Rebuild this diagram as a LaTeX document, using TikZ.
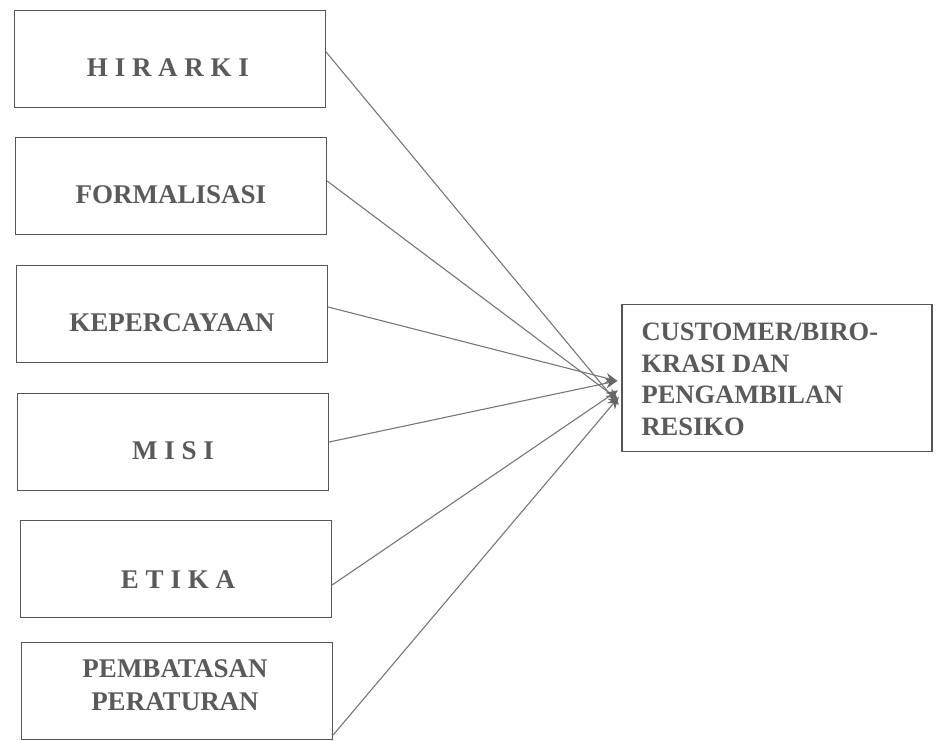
\documentclass[tikz,border=0pt]{standalone}
\usepackage{fontspec}
\setmainfont{Liberation Serif}
\usetikzlibrary{arrows.meta,calc}
\definecolor{txt}{HTML}{5A5A5A}
\definecolor{edge}{HTML}{555555}
\definecolor{conn}{HTML}{777777}
\definecolor{head}{HTML}{666666}
\begin{document}
\begin{tikzpicture}[x=1pt,y=-1pt,
  lbox/.style={draw=edge,line width=1.2pt,minimum width=311pt,minimum height=97pt,inner sep=0pt},
  ltext/.style={font=\fontsize{27}{33}\selectfont\bfseries,text=txt,align=center,inner sep=0pt},
  rbox/.style={draw=edge,line width=1.2pt,minimum width=310pt,minimum height=147pt,inner sep=0pt},
  rtext/.style={font=\fontsize{26.5}{31.5}\selectfont\bfseries,text=txt,align=left,inner sep=0pt,anchor=north west},
  conn/.style={draw=conn,line width=1.1pt,-{Stealth[length=12pt,width=10pt,color=head]},shorten >=4pt}]
\useasboundingbox (0,0) rectangle (940,740);
\fill[white] (0,0) rectangle (940,740);
\node[lbox] (h) at (170,59) {};
\node[lbox] (f) at (171,186) {};
\node[lbox] (k) at (172,314) {};
\node[lbox] (m) at (173,442) {};
\node[lbox] (e) at (176,569) {};
\node[lbox] (p) at (177,691) {};
\node[ltext] (ht) at ($(h.center)+(-2,9)$) {H I R A R K I};
\node[ltext] (ft) at ($(f.center)+(0,9)$) {FORMALISASI};
\node[ltext] (kt) at ($(k.center)+(0,9)$) {KEPERCAYAAN};
\node[ltext] (mt) at ($(m.center)+(0,9)$) {M I S I};
\node[ltext] (et) at ($(e.center)+(2,11)$) {E T I K A};
\node[ltext] (pt) at ($(p.center)+(-2,-6)$) {PEMBATASAN\\PERATURAN};
\node[rbox] (r) at (777,378) {};
\node[rtext] (rt) at ($(r.north west)+(20,19)$) {CUSTOMER/BIRO-\\KRASI DAN\\PENGAMBILAN\\RESIKO};
\draw[conn] ([yshift=7pt]h.east) -- ([yshift=-30pt]r.west);
\draw[conn] ([yshift=5pt]f.east) -- ([yshift=-24pt]r.west);
\draw[conn] ([yshift=7pt]k.east) -- ([yshift=-4pt]r.west);
\draw[conn] (m.east) -- ([yshift=-2pt]r.west);
\draw[conn] ([yshift=-16pt]e.east) -- ([yshift=-10pt]r.west);
\draw[conn] ([yshift=-44pt]p.east) -- ([yshift=-16pt]r.west);
\end{tikzpicture}
\end{document}
